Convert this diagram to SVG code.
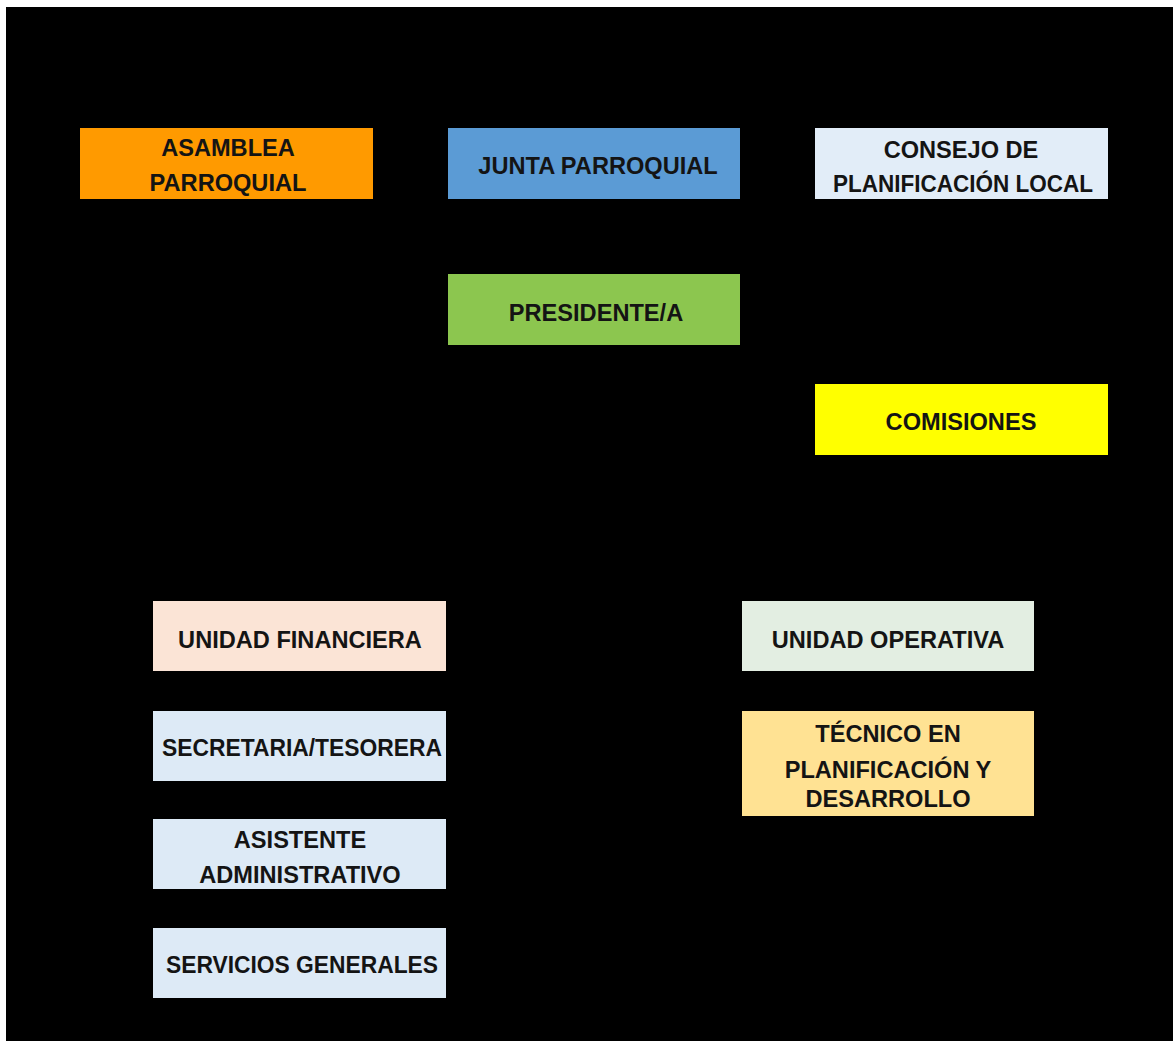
<svg xmlns="http://www.w3.org/2000/svg" width="1175" height="1042" viewBox="0 0 1175 1042">
<style>
.t{font-family:"Liberation Sans",Arial,sans-serif;font-weight:bold;font-size:23.6px;fill:#141414;text-anchor:middle}
</style>
<rect x="0" y="0" width="1175" height="1042" fill="#ffffff"/>
<rect x="6" y="7" width="1167" height="1034" fill="#000000"/>
<g id="connectors"></g>
<g id="asamblea"><rect x="80" y="128" width="293" height="71" fill="#FF9A00"/><text class="t" x="228" y="156">ASAMBLEA</text><text class="t" x="228" y="191">PARROQUIAL</text></g>
<g id="junta"><rect x="448" y="128" width="292" height="71" fill="#5B9BD5"/><text class="t" x="598" y="174">JUNTA PARROQUIAL</text></g>
<g id="consejo"><rect x="815" y="128" width="293" height="71" fill="#E2EDF8"/><text class="t" x="961" y="158">CONSEJO DE</text><text class="t" x="963" y="192" textLength="260" lengthAdjust="spacingAndGlyphs">PLANIFICACIÓN LOCAL</text></g>
<g id="presidente"><rect x="448" y="274" width="292" height="71" fill="#8CC64F"/><text class="t" x="596" y="321">PRESIDENTE/A</text></g>
<g id="comisiones"><rect x="815" y="384" width="293" height="71" fill="#FFFF00"/><text class="t" x="961" y="430">COMISIONES</text></g>
<g id="financiera"><rect x="153" y="601" width="293" height="70" fill="#FBE4D6"/><text class="t" x="300" y="648">UNIDAD FINANCIERA</text></g>
<g id="secretaria"><rect x="153" y="711" width="293" height="70" fill="#DDEAF6"/><text class="t" x="302" y="756" textLength="280" lengthAdjust="spacingAndGlyphs">SECRETARIA/TESORERA</text></g>
<g id="asistente"><rect x="153" y="819" width="293" height="70" fill="#DDEAF6"/><text class="t" x="300" y="848">ASISTENTE</text><text class="t" x="300" y="883">ADMINISTRATIVO</text></g>
<g id="servicios"><rect x="153" y="928" width="293" height="70" fill="#DDEAF6"/><text class="t" x="302" y="973" textLength="272" lengthAdjust="spacingAndGlyphs">SERVICIOS GENERALES</text></g>
<g id="operativa"><rect x="742" y="601" width="292" height="70" fill="#E3EEE2"/><text class="t" x="888" y="648">UNIDAD OPERATIVA</text></g>
<g id="tecnico"><rect x="742" y="711" width="292" height="105" fill="#FFE293"/><text class="t" x="888" y="742">TÉCNICO EN</text><text class="t" x="888" y="778">PLANIFICACIÓN Y</text><text class="t" x="888" y="807">DESARROLLO</text></g>
</svg>
